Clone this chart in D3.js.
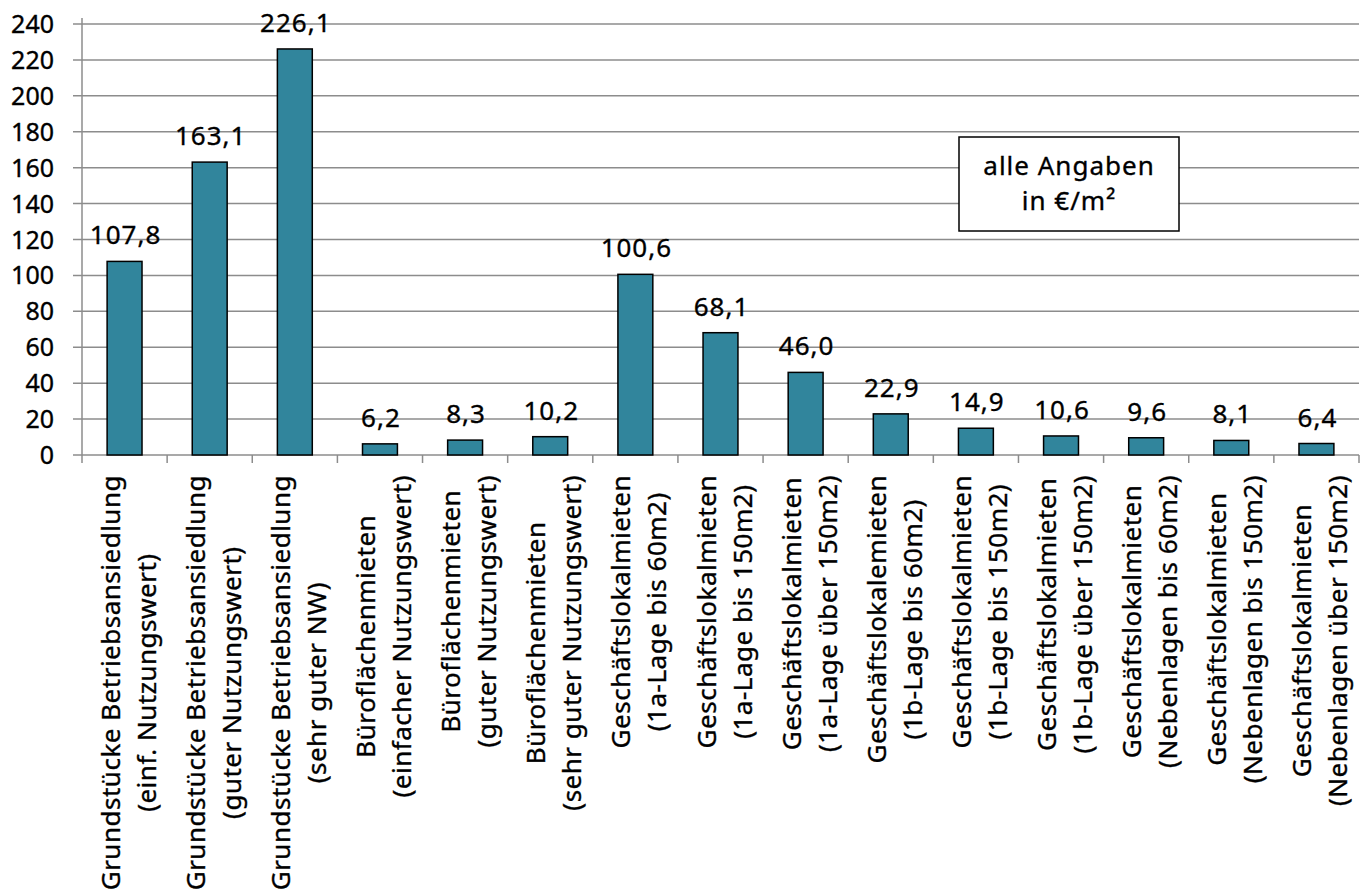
<!DOCTYPE html>
<html>
<head>
<meta charset="utf-8">
<script src="https://cdn.jsdelivr.net/npm/d3@7/dist/d3.min.js"></script>
<style>
  html, body { margin: 0; padding: 0; background: #fff; }
  svg { display: block; }
  text { font-family: "Noto Sans", "Open Sans", sans-serif; fill: #000; stroke: #000; stroke-width: 0.35px; }
</style>
</head>
<body>
<svg id="chart" width="1365" height="895"></svg>
<script>
const categories = [
  ["Grundstücke Betriebsansiedlung", "(einf. Nutzungswert)"],
  ["Grundstücke Betriebsansiedlung", "(guter Nutzungswert)"],
  ["Grundstücke Betriebsansiedlung", "(sehr guter NW)"],
  ["Büroflächenmieten", "(einfacher Nutzungswert)"],
  ["Büroflächenmieten", "(guter Nutzungswert)"],
  ["Büroflächenmieten", "(sehr guter Nutzungswert)"],
  ["Geschäftslokalmieten", "(1a-Lage bis 60m2)"],
  ["Geschäftslokalmieten", "(1a-Lage bis 150m2)"],
  ["Geschäftslokalmieten", "(1a-Lage über 150m2)"],
  ["Geschäftslokalemieten", "(1b-Lage bis 60m2)"],
  ["Geschäftslokalmieten", "(1b-Lage bis 150m2)"],
  ["Geschäftslokalmieten", "(1b-Lage über 150m2)"],
  ["Geschäftslokalmieten", "(Nebenlagen bis 60m2)"],
  ["Geschäftslokalmieten", "(Nebenlagen bis 150m2)"],
  ["Geschäftslokalmieten", "(Nebenlagen über 150m2)"]
];
const values = [107.8, 163.1, 226.1, 6.2, 8.3, 10.2, 100.6, 68.1, 46.0, 22.9, 14.9, 10.6, 9.6, 8.1, 6.4];
const yTicks = [0, 20, 40, 60, 80, 100, 120, 140, 160, 180, 200, 220, 240];
const noteLines = ["alle Angaben", "in €/m²"];

const svg = d3.select("#chart");
const pLeft = 82, pRight = 1359, pTop = 24, pBottom = 455;
const gridColor = "#8c8c8c";
const barColor = "#31859c";

const x = d3.scaleBand().domain(d3.range(values.length)).range([pLeft, pRight]).paddingInner(0.59).paddingOuter(0.295);
const xCat = d3.scaleBand().domain(d3.range(values.length)).range([pLeft, pRight]);
const y = d3.scaleLinear().domain([0, 240]).range([pBottom, pTop]);

// gridlines
svg.append("g").selectAll("line").data(yTicks).join("line")
  .attr("x1", pLeft - 9).attr("x2", pRight)
  .attr("y1", d => y(d)).attr("y2", d => y(d))
  .attr("stroke", gridColor).attr("stroke-width", 1.5);

// y axis line
svg.append("line").attr("x1", pLeft).attr("x2", pLeft).attr("y1", pTop - 6).attr("y2", pBottom)
  .attr("stroke", gridColor).attr("stroke-width", 1.5);

// x tick marks
const tickPos = d3.range(values.length + 1).map(i => i < values.length ? xCat(i) : pRight);
svg.append("g").selectAll("line").data(tickPos).join("line")
  .attr("x1", d => d).attr("x2", d => d).attr("y1", pBottom).attr("y2", pBottom + 8)
  .attr("stroke", gridColor).attr("stroke-width", 1.5);

// y tick labels
svg.append("g").selectAll("text").data(yTicks).join("text")
  .attr("x", 54).attr("y", d => y(d)).attr("dy", "0.36em")
  .attr("text-anchor", "end").attr("font-size", 25)
  .text(d => d);

// bars
svg.append("g").selectAll("rect").data(values).join("rect")
  .attr("x", (d, i) => x(i)).attr("width", x.bandwidth())
  .attr("y", d => y(d)).attr("height", d => pBottom - y(d))
  .attr("fill", barColor).attr("stroke", "#000").attr("stroke-width", 1.5);

// data labels
svg.append("g").selectAll("text").data(values).join("text")
  .attr("x", (d, i) => x(i) + x.bandwidth() / 2 + 1)
  .attr("y", d => y(d) - 17)
  .attr("text-anchor", "middle").attr("font-size", 26)
  .attr("letter-spacing", 1)
  .text(d => d.toFixed(1).replace(".", ","));

// category labels
const catG = svg.append("g");
categories.forEach((lines, i) => {
  const cx = xCat(i) + xCat.bandwidth() / 2;
  const g = catG.append("g").attr("transform", `translate(${cx + 4},475) rotate(-90)`);
  const texts = lines.map((l, k) => g.append("text")
    .attr("font-size", 26).attr("letter-spacing", 0.5)
    .attr("text-anchor", "middle")
    .attr("y", (k - (lines.length - 1) / 2) * 36 + 9)
    .text(l));
  const maxLen = d3.max(texts, t => t.node().getComputedTextLength());
  texts.forEach(t => t.attr("x", -maxLen / 2));
});

// annotation box
const bx = 959, by = 137, bw = 220, bh = 94;
svg.append("rect").attr("x", bx).attr("y", by).attr("width", bw).attr("height", bh)
  .attr("fill", "#fff").attr("stroke", "#000").attr("stroke-width", 1.5);
noteLines.forEach((t, k) => {
  svg.append("text").attr("x", bx + bw / 2).attr("y", by + 38 + k * 35)
    .attr("text-anchor", "middle").attr("font-size", 26).attr("letter-spacing", 1)
    .text(t);
});
</script>
</body>
</html>
